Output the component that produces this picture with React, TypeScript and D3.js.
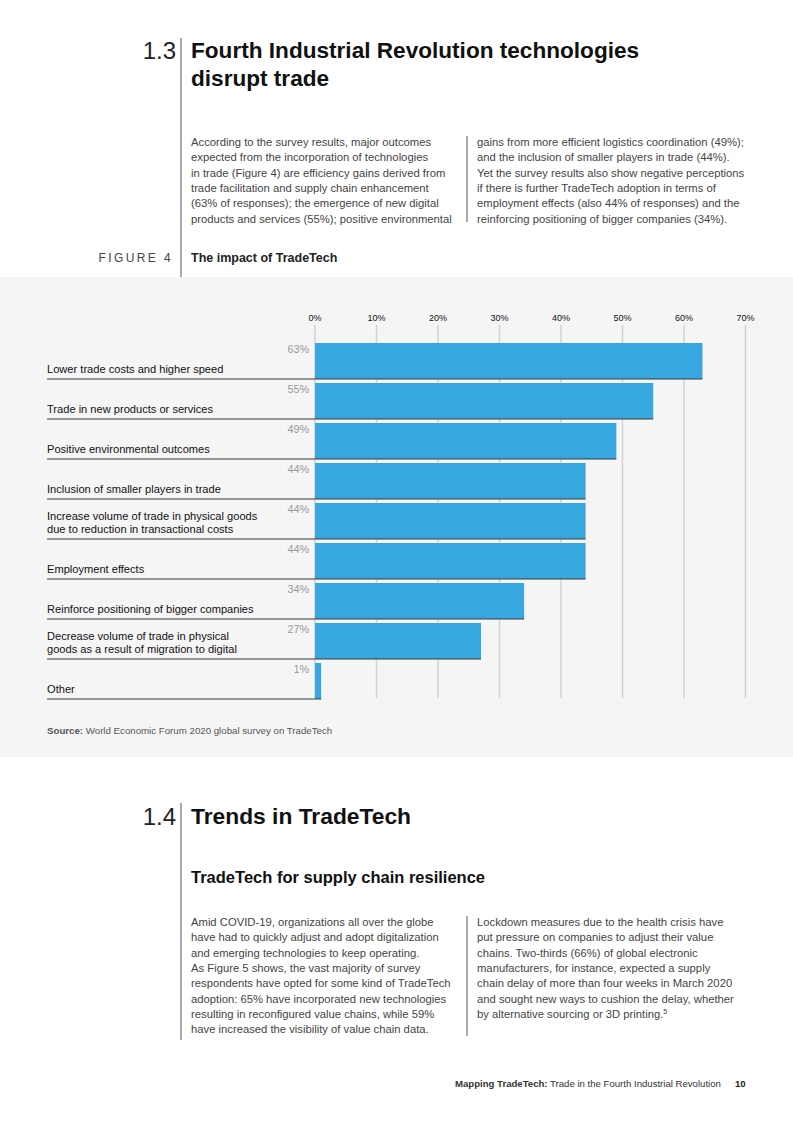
import * as React from "react";
import * as d3 from "d3";

const categories = [
  ["Lower trade costs and higher speed"],
  ["Trade in new products or services"],
  ["Positive environmental outcomes"],
  ["Inclusion of smaller players in trade"],
  ["Increase volume of trade in physical goods", "due to reduction in transactional costs"],
  ["Employment effects"],
  ["Reinforce positioning of bigger companies"],
  ["Decrease volume of trade in physical", "goods as a result of migration to digital"],
  ["Other"],
];
const values = [63, 55, 49, 44, 44, 44, 34, 27, 1];
const ticks = [0, 10, 20, 30, 40, 50, 60, 70];

const para1Left = [
  "According to the survey results, major outcomes",
  "expected from the incorporation of technologies",
  "in trade (Figure 4) are efficiency gains derived from",
  "trade facilitation and supply chain enhancement",
  "(63% of responses); the emergence of new digital",
  "products and services (55%); positive environmental",
];
const para1Right = [
  "gains from more efficient logistics coordination (49%);",
  "and the inclusion of smaller players in trade (44%).",
  "Yet the survey results also show negative perceptions",
  "if there is further TradeTech adoption in terms of",
  "employment effects (also 44% of responses) and the",
  "reinforcing positioning of bigger companies (34%).",
];
const para2Left = [
  "Amid COVID-19, organizations all over the globe",
  "have had to quickly adjust and adopt digitalization",
  "and emerging technologies to keep operating.",
  "As Figure 5 shows, the vast majority of survey",
  "respondents have opted for some kind of TradeTech",
  "adoption: 65% have incorporated new technologies",
  "resulting in reconfigured value chains, while 59%",
  "have increased the visibility of value chain data.",
];
const para2Right = [
  "Lockdown measures due to the health crisis have",
  "put pressure on companies to adjust their value",
  "chains. Two-thirds (66%) of global electronic",
  "manufacturers, for instance, expected a supply",
  "chain delay of more than four weeks in March 2020",
  "and sought new ways to cushion the delay, whether",
  "by alternative sourcing or 3D printing.",
];

const FONT = "'Liberation Sans', Arial, Helvetica, sans-serif";
const BODY = 11.25;

function Para({ lines, x, y, lh = 15.3, sup }: { lines: string[]; x: number; y: number; lh?: number; sup?: string }) {
  return (
    <text x={x} y={y} fontSize={BODY} fill="#444" fontFamily={FONT}>
      {lines.map((l, i) => (
        <tspan key={i} x={x} y={y + i * lh}>
          {l}
          {sup && i === lines.length - 1 ? (
            <tspan fontSize={7} dy={-4}>
              {sup}
            </tspan>
          ) : null}
        </tspan>
      ))}
    </text>
  );
}

export default function App() {
  React.useEffect(() => {
    document.body.style.margin = "0";
  }, []);

  const W = 793;
  const H = 1122;

  const x = d3.scaleLinear().domain([0, 70]).range([315, 745.5]);
  const y = d3
    .scaleBand<number>()
    .domain(d3.range(values.length))
    .range([343, 699])
    .paddingInner(0.1)
    .paddingOuter(0);
  const bh = y.bandwidth();

  return (
    <svg width={W} height={H} style={{ display: "block" }} fontFamily={FONT}>
      <rect width={W} height={H} fill="#fff" />

      {/* section 1.3 */}
      <line x1={181} x2={181} y1={38} y2={277} stroke="#555" strokeWidth={1} />
      <text x={176} y={59} textAnchor="end" fontSize={24} fill="#222">1.3</text>
      <text x={191} y={58} fontSize={22.6} fontWeight={700} fill="#111">
        <tspan x={191}>Fourth Industrial Revolution technologies</tspan>
        <tspan x={191} dy={28}>disrupt trade</tspan>
      </text>
      <Para lines={para1Left} x={191} y={146} />
      <line x1={467} x2={467} y1={136} y2={222} stroke="#555" />
      <Para lines={para1Right} x={477} y={146} />

      <text x={173} y={262} textAnchor="end" fontSize={12} letterSpacing={2.4} fill="#444">FIGURE 4</text>
      <text x={191} y={262} fontSize={12.5} fontWeight={700} fill="#222">The impact of TradeTech</text>

      {/* figure background */}
      <rect x={0} y={277} width={W} height={480} fill="#f5f5f5" />

      {/* grid + ticks */}
      {ticks.map((t) => (
        <g key={t}>
          <line x1={x(t)} x2={x(t)} y1={325} y2={698} stroke="#d2d2d2" strokeWidth={1.5} />
          <text x={x(t)} y={321} textAnchor="middle" fontSize={9} fill="#111">
            {t}%
          </text>
        </g>
      ))}

      {/* bars */}
      {values.map((v, i) => {
        const top = y(i) as number;
        const bottom = top + bh;
        const lines = categories[i];
        return (
          <g key={i}>
            <rect x={x(0)} y={top} width={x(v) - x(0)} height={bh} fill="#37a8df" />
            <line x1={47} x2={x(v)} y1={bottom} y2={bottom} stroke="#3a3a3a" strokeWidth={1.2} />
            <text x={309} y={top + 10} textAnchor="end" fontSize={10.8} fill="#999">
              {v}%
            </text>
            <text fontSize={11.1} fill="#111">
              {lines.map((l, j) => (
                <tspan key={j} x={47} y={bottom - 6 - (lines.length - 1 - j) * 13.5}>
                  {l}
                </tspan>
              ))}
            </text>
          </g>
        );
      })}

      <text x={47} y={734} fontSize={9.7} fill="#555">
        <tspan fontWeight={700}>Source:</tspan> World Economic Forum 2020 global survey on TradeTech
      </text>

      {/* section 1.4 */}
      <line x1={181} x2={181} y1={803} y2={1040} stroke="#555" />
      <text x={176} y={825} textAnchor="end" fontSize={24} fill="#222">1.4</text>
      <text x={191} y={824} fontSize={22.8} fontWeight={700} fill="#111">Trends in TradeTech</text>
      <text x={191} y={883} fontSize={16.5} fontWeight={700} fill="#111">TradeTech for supply chain resilience</text>

      <Para lines={para2Left} x={191} y={926} />
      <line x1={467} x2={467} y1={916} y2={1036} stroke="#555" />
      <Para lines={para2Right} x={477} y={926} sup="5" />

      {/* footer */}
      <text x={455} y={1087} fontSize={9.6} fill="#333">
        <tspan fontWeight={700}>Mapping TradeTech:</tspan> Trade in the Fourth Industrial Revolution
      </text>
      <text x={735} y={1087} fontSize={9.6} fontWeight={700} fill="#222">10</text>
    </svg>
  );
}
